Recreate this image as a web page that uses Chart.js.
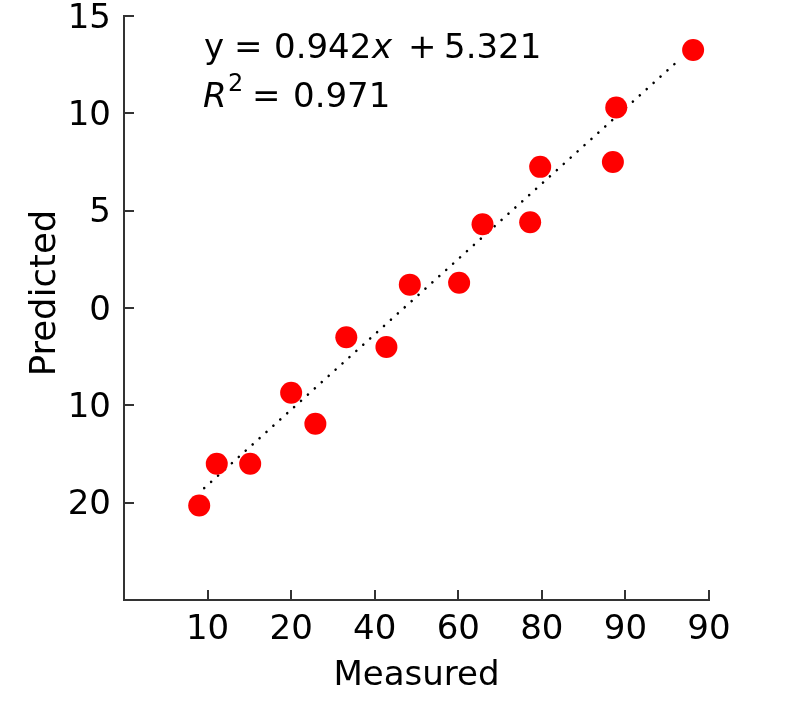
<!DOCTYPE html>
<html>
<head>
<meta charset="utf-8">
<script src="https://cdn.jsdelivr.net/npm/chart.js@4.4.1/dist/chart.umd.min.js"></script>
<style>
  html, body { margin: 0; padding: 0; background: #fff; }
  #wrap { width: 800px; height: 714px; }
</style>
</head>
<body>
<div id="wrap"><canvas id="c" width="800" height="714"></canvas></div>
<script>
// Tick labels (as printed in the reference), indexed by axis position
const xTickLabels = ['', '10', '20', '40', '60', '80', '90', '90'];
const yTickLabels = ['', '20', '10', '0', '5', '10', '15'];

// Point positions in axis-position units
const measured  = [0.90, 1.11, 1.51, 2.00, 2.29, 2.66, 3.14, 3.42, 4.01, 4.29, 4.86, 4.98, 5.85, 5.89, 6.81];
const predicted = [0.97, 1.40, 1.40, 2.13, 1.81, 2.70, 2.60, 3.24, 3.26, 3.86, 3.88, 4.45, 4.50, 5.06, 5.65];

// Fit line end points (axis-position units)
const fitX = [0.96, 6.63];
const fitY = [1.15, 5.54];

const eqLine1 = ['y', '=', '0.942', 'x', '+', '5.321'];
const eqLine2 = ['R', '2', '=', '0.971'];
const xTitle = 'Measured';
const yTitle = 'Predicted';

const FONT = '"DejaVu Sans", sans-serif';
const AXIS_COLOR = '#333333';

const pointData = measured.map((m, i) => ({ x: m, y: predicted[i] }));
const fitData = fitX.map((x, i) => ({ x: x, y: fitY[i] }));

const decorPlugin = {
  id: 'decor',
  afterDraw(chart) {
    const ctx = chart.ctx;
    const xs = chart.scales.x, ys = chart.scales.y;
    const a = chart.chartArea;
    ctx.save();
    // inward tick marks
    ctx.strokeStyle = AXIS_COLOR;
    ctx.lineWidth = 2;
    ctx.beginPath();
    for (let i = 1; i < xTickLabels.length; i++) {
      const px = Math.round(xs.getPixelForValue(i));
      ctx.moveTo(px, a.bottom);
      ctx.lineTo(px, a.bottom - 10);
    }
    for (let i = 1; i < yTickLabels.length; i++) {
      const py = Math.round(ys.getPixelForValue(i));
      ctx.moveTo(a.left, py);
      ctx.lineTo(a.left + 10, py);
    }
    ctx.stroke();

    // axis titles
    ctx.fillStyle = '#000';
    ctx.font = '34px ' + FONT;
    ctx.textAlign = 'center';
    ctx.textBaseline = 'alphabetic';
    ctx.fillText(xTitle, (a.left + a.right) / 2, a.bottom + 85);
    ctx.save();
    ctx.font = '35.5px ' + FONT;
    ctx.translate(a.left - 69, (a.top + a.bottom) / 2 - 15);
    ctx.rotate(-Math.PI / 2);
    ctx.fillText(yTitle, 0, 0);
    ctx.restore();

    // equation annotation
    ctx.textAlign = 'left';
    const L = a.left;
    const b1 = a.top + 42, b2 = a.top + 91;
    const norm = '34px ' + FONT;
    const ital = 'italic 34px ' + FONT;
    const line1Pos = [80, 110, 150, 248, 284, 320];
    const line1Font = [norm, norm, norm, ital, norm, norm];
    eqLine1.forEach((t, i) => {
      ctx.font = line1Font[i];
      ctx.fillText(t, L + line1Pos[i], b1);
    });
    ctx.font = ital;
    ctx.fillText(eqLine2[0], L + 79, b2);
    ctx.font = '24px ' + FONT;
    ctx.fillText(eqLine2[1], L + 104, b2 - 16);
    ctx.font = norm;
    ctx.fillText(eqLine2[2], L + 128, b2);
    ctx.fillText(eqLine2[3], L + 169, b2);
    ctx.restore();
  }
};

new Chart(document.getElementById('c'), {
  type: 'scatter',
  data: {
    datasets: [
      {
        label: 'data',
        data: pointData,
        backgroundColor: '#ff0000',
        borderWidth: 0,
        pointRadius: 11,
        pointHoverRadius: 11,
        order: 0
      },
      {
        type: 'line',
        label: 'fit',
        data: fitData,
        borderColor: '#000000',
        borderWidth: 2.6,
        borderDash: [0.01, 9.3],
        borderCapStyle: 'round',
        pointRadius: 0,
        fill: false,
        order: 1
      }
    ]
  },
  options: {
    responsive: false,
    animation: false,
    events: [],
    layout: { padding: { top: 16, right: 91, left: 0, bottom: 0 } },
    plugins: { legend: { display: false }, tooltip: { enabled: false } },
    scales: {
      x: {
        type: 'linear',
        min: 0, max: xTickLabels.length - 1,
        afterFit(s) { s.height = 114; s.paddingLeft = 0; s.paddingRight = 0; },
        afterBuildTicks(s) { s.ticks = xTickLabels.map((_, i) => ({ value: i })); },
        grid: { display: false, drawTicks: false },
        border: { display: true, color: AXIS_COLOR, width: 2 },
        ticks: {
          padding: 10,
          color: '#000',
          font: { family: FONT, size: 34 },
          maxRotation: 0,
          autoSkip: false,
          callback: (v) => xTickLabels[v]
        }
      },
      y: {
        type: 'linear',
        min: 0, max: yTickLabels.length - 1,
        afterFit(s) { s.width = 124; s.paddingTop = 0; s.paddingBottom = 0; },
        afterBuildTicks(s) { s.ticks = yTickLabels.map((_, i) => ({ value: i })); },
        grid: { display: false, drawTicks: false },
        border: { display: true, color: AXIS_COLOR, width: 2 },
        ticks: {
          padding: 13,
          labelOffset: 3,
          color: '#000',
          font: { family: FONT, size: 34 },
          autoSkip: false,
          callback: (v) => yTickLabels[v]
        }
      }
    }
  },
  plugins: [decorPlugin]
});
</script>
</body>
</html>
